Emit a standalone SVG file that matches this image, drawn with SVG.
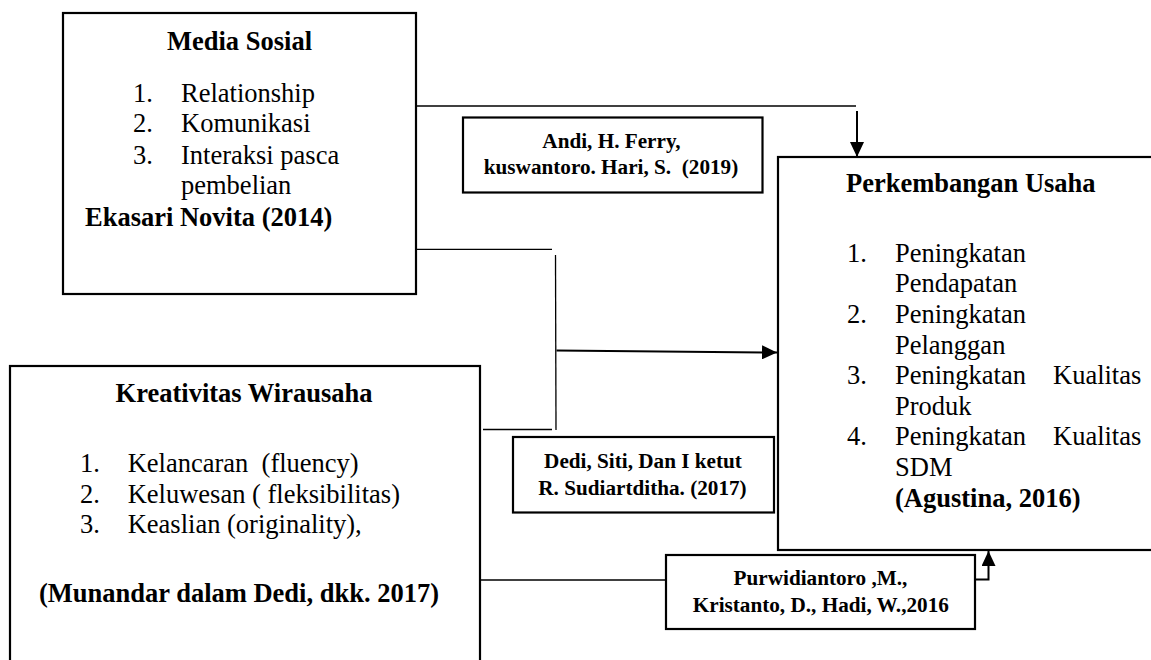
<svg xmlns="http://www.w3.org/2000/svg" width="1151" height="660" viewBox="0 0 1151 660">
<style>
  text { font-family: "Liberation Serif", "Times New Roman", serif; fill: #000; }
  .t { font-size: 26.5px; }
  .b { font-weight: bold; }
  .s { font-size: 21.2px; font-weight: bold; text-anchor: middle; }
  .mid { text-anchor: middle; }
  .box { fill: #fff; stroke: #000; stroke-width: 2.2; }
  .thin { fill: none; stroke: #000; stroke-width: 1.3; }
  .thick { fill: none; stroke: #000; stroke-width: 2; }
</style>
<defs>
  <marker id="arr" markerUnits="userSpaceOnUse" markerWidth="15" markerHeight="14" refX="15" refY="7" orient="auto">
    <path d="M0,0 L15,7 L0,14 Z" fill="#000"/>
  </marker>
</defs>
<rect width="1151" height="660" fill="#fff"/>

<g id="media-sosial">
  <rect class="box" x="63" y="13" width="353" height="281"/>
  <text class="t b mid" x="239.5" y="49.5">Media Sosial</text>
  <text class="t" x="133" y="101.7">1.</text>
  <text class="t" x="181" y="101.7">Relationship</text>
  <text class="t" x="133" y="132.3">2.</text>
  <text class="t" x="181" y="132.3">Komunikasi</text>
  <text class="t" x="133" y="164">3.</text>
  <text class="t" x="181" y="164">Interaksi pasca</text>
  <text class="t" x="181" y="194">pembelian</text>
  <text class="t b" x="85" y="226">Ekasari Novita (2014)</text>
</g>

<g id="kreativitas-wirausaha">
  <rect class="box" x="10" y="366" width="470" height="320"/>
  <text class="t b mid" x="244" y="401.7">Kreativitas Wirausaha</text>
  <text class="t" x="80" y="471.7">1.</text>
  <text class="t" x="127.7" y="471.7" xml:space="preserve">Kelancaran  (fluency)</text>
  <text class="t" x="80" y="502.7">2.</text>
  <text class="t" x="127.7" y="502.7">Keluwesan ( fleksibilitas)</text>
  <text class="t" x="80" y="533.3">3.</text>
  <text class="t" x="127.7" y="533.3">Keaslian (originality),</text>
  <text class="t b mid" x="239" y="601.7">(Munandar dalam Dedi, dkk. 2017)</text>
</g>

<g id="perkembangan-usaha">
  <rect class="box" x="778" y="157" width="400" height="393"/>
  <text class="t b" x="846" y="191.7">Perkembangan Usaha</text>
  <text class="t" x="847" y="261.7">1.</text>
  <text class="t" x="895" y="261.7">Peningkatan</text>
  <text class="t" x="895" y="292.3">Pendapatan</text>
  <text class="t" x="847" y="322.9">2.</text>
  <text class="t" x="895" y="322.9">Peningkatan</text>
  <text class="t" x="895" y="353.5">Pelanggan</text>
  <text class="t" x="847" y="384.1">3.</text>
  <text class="t" x="895" y="384.1">Peningkatan<tspan x="1053">Kualitas</tspan></text>
  <text class="t" x="895" y="414.7">Produk</text>
  <text class="t" x="847" y="445.3">4.</text>
  <text class="t" x="895" y="445.3">Peningkatan<tspan x="1053">Kualitas</tspan></text>
  <text class="t" x="895" y="475.9">SDM</text>
  <text class="t b" x="895" y="506.5">(Agustina, 2016)</text>
</g>

<g id="connectors">
  <line class="thin" x1="416" y1="106" x2="856" y2="106"/>
  <line class="thick" x1="857" y1="111" x2="857" y2="157" marker-end="url(#arr)"/>
  <line class="thin" x1="416" y1="249.3" x2="552" y2="249.3"/>
  <line class="thin" x1="555.5" y1="255" x2="556" y2="430"/>
  <line class="thin" x1="483" y1="429.5" x2="552" y2="429.5"/>
  <line class="thick" x1="556.5" y1="350.5" x2="777" y2="352.5" marker-end="url(#arr)"/>
  <line class="thin" x1="480" y1="580" x2="666" y2="580"/>
  <polyline class="thick" points="975,579.5 988.5,579.5 988.5,551" marker-end="url(#arr)"/>
</g>

<g id="ref-andi">
  <rect class="box" x="463" y="117.5" width="299.5" height="75"/>
  <text class="s" x="611.5" y="148">Andi, H. Ferry,</text>
  <text class="s" x="611" y="174.3" xml:space="preserve">kuswantoro. Hari, S.  (2019)</text>
</g>

<g id="ref-dedi">
  <rect class="box" x="513" y="437" width="261" height="75.5"/>
  <text class="s" x="643" y="467.7">Dedi, Siti, Dan I ketut</text>
  <text class="s" x="642.5" y="495">R. Sudiartditha. (2017)</text>
</g>

<g id="ref-purwidiantoro">
  <rect class="box" x="666" y="555" width="309" height="74"/>
  <text class="s" x="820.5" y="585">Purwidiantoro ,M.,</text>
  <text class="s" x="820.8" y="611.7">Kristanto, D., Hadi, W.,2016</text>
</g>
</svg>
